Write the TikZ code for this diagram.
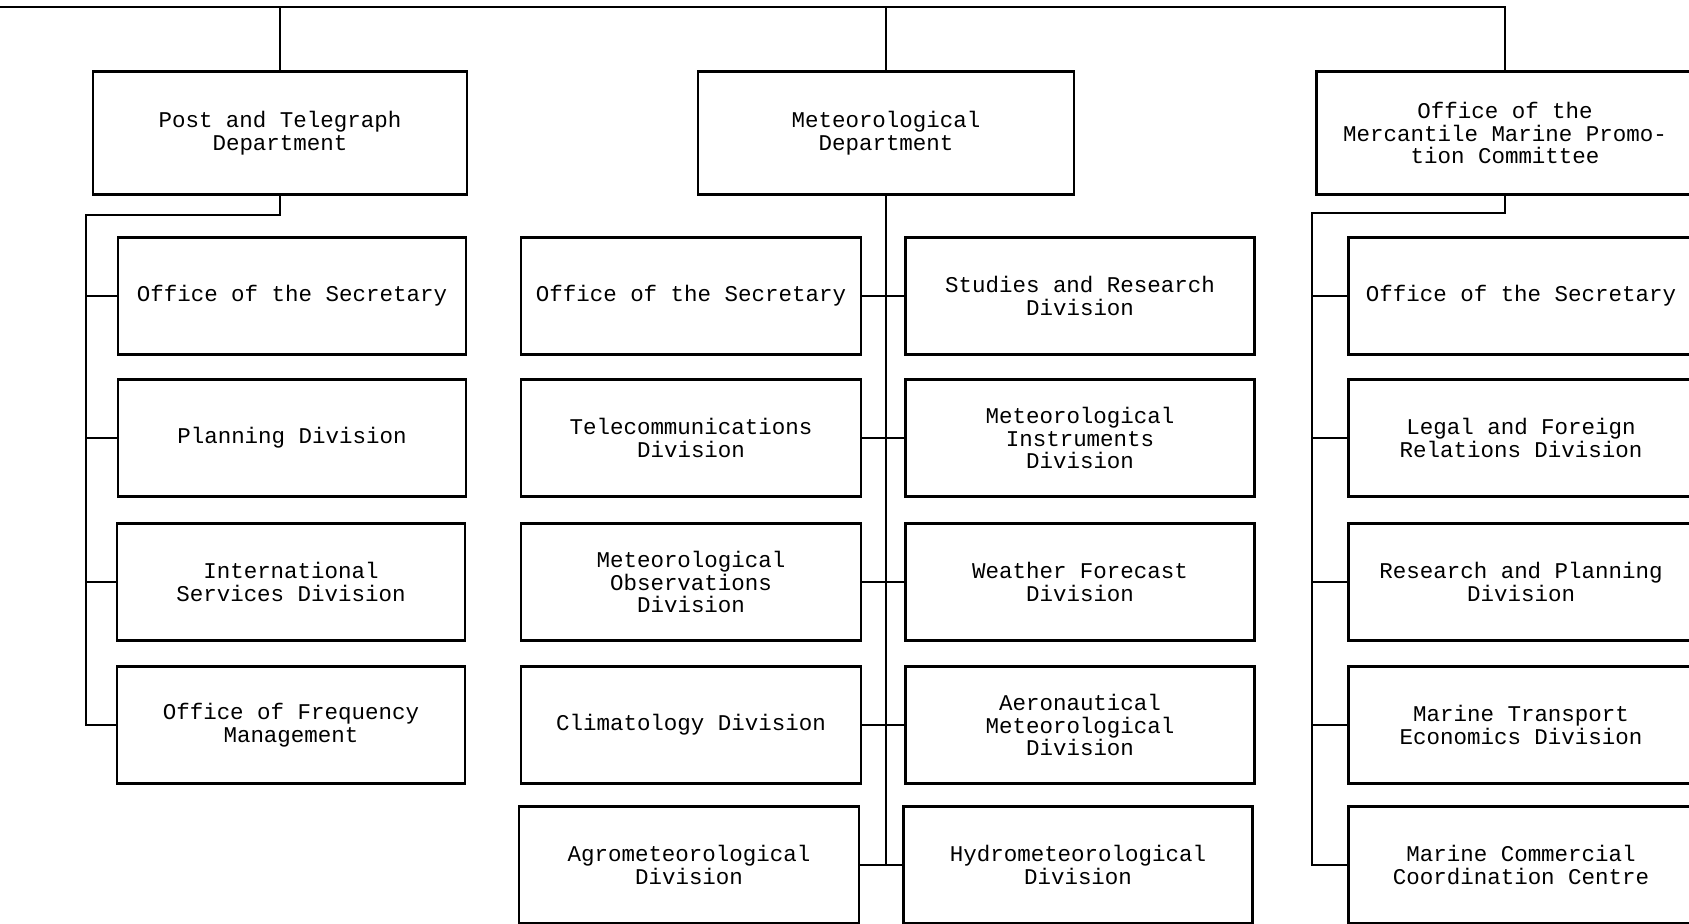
\documentclass[tikz,border=0pt]{standalone}
\usepackage{fontspec}
\newfontfamily\typew{Liberation Mono}

\tikzstyle{dept} = [rectangle, draw, line width=0.8pt, minimum width=3.74cm, minimum height=1.23cm, align=center, font=\fontsize{6.4pt}{6.5pt}\selectfont\typew]
\tikzstyle{unit} = [rectangle, draw, line width=0.8pt, minimum height=1.17cm, align=center, font=\fontsize{6.4pt}{6.5pt}\selectfont\typew]
\tikzstyle{wire} = [line width=0.5pt]

\begin{document}
\begin{tikzpicture}
\useasboundingbox (0,0) rectangle (16.89,-9.24);
\clip (0,0) rectangle (16.89,-9.24);
% departments
\node[dept] (post) at (2.80,-1.33) {Post and Telegraph\\Department};
\node[dept, minimum width=3.76cm] (met) at (8.86,-1.33) {Meteorological\\Department};
\node[dept, minimum width=3.77cm] (merc) at (15.05,-1.33) {Office of the\\Mercantile Marine Promo-\\tion Committee};
% post and telegraph
\node[unit, minimum width=3.48cm] (ps1) at (2.92,-2.96) {Office of the Secretary};
\node[unit, minimum width=3.48cm] (ps2) at (2.92,-4.38) {Planning Division};
\node[unit, minimum width=3.48cm] (ps3) at (2.91,-5.82) {International\\Services Division};
\node[unit, minimum width=3.48cm] (ps4) at (2.91,-7.25) {Office of Frequency\\Management};
% meteorological
\node[unit, minimum width=3.40cm] (ml1) at (6.91,-2.96) {Office of the Secretary};
\node[unit, minimum width=3.40cm] (ml2) at (6.91,-4.38) {Telecommunications\\Division};
\node[unit, minimum width=3.40cm] (ml3) at (6.91,-5.82) {Meteorological\\Observations\\Division};
\node[unit, minimum width=3.40cm] (ml4) at (6.91,-7.25) {Climatology Division};
\node[unit, minimum width=3.40cm] (ml5) at (6.89,-8.65) {Agrometeorological\\Division};
\node[unit, minimum width=3.49cm] (mr1) at (10.80,-2.96) {Studies and Research\\Division};
\node[unit, minimum width=3.49cm] (mr2) at (10.80,-4.38) {Meteorological\\Instruments\\Division};
\node[unit, minimum width=3.49cm] (mr3) at (10.80,-5.82) {Weather Forecast\\Division};
\node[unit, minimum width=3.49cm] (mr4) at (10.80,-7.25) {Aeronautical\\Meteorological\\Division};
\node[unit, minimum width=3.49cm] (mr5) at (10.78,-8.65) {Hydrometeorological\\Division};
% mercantile marine
\node[unit, minimum width=3.45cm] (cs1) at (15.21,-2.96) {Office of the Secretary};
\node[unit, minimum width=3.45cm] (cs2) at (15.21,-4.38) {Legal and Foreign\\Relations Division};
\node[unit, minimum width=3.45cm] (cs3) at (15.21,-5.82) {Research and Planning\\Division};
\node[unit, minimum width=3.45cm] (cs4) at (15.21,-7.25) {Marine Transport\\Economics Division};
\node[unit, minimum width=3.45cm] (cs5) at (15.21,-8.65) {Marine Commercial\\Coordination Centre};
% top line
\coordinate (top) at (0,-0.07);
\draw[wire] (top) -| (merc.north);
\draw[wire] (post.north) -- (post.north |- top);
\draw[wire] (met.north) -- (met.north |- top);
% post bus
\coordinate (pbus) at (0.86,-2.15);
\draw[wire] (post.south) |- (pbus) |- (ps4.west);
\draw[wire] (pbus |- ps1.west) -- (ps1.west);
\draw[wire] (pbus |- ps2.west) -- (ps2.west);
\draw[wire] (pbus |- ps3.west) -- (ps3.west);
% met trunk
\draw[wire] (met.south) -- (met.south |- ml5.east);
\draw[wire] (ml1.east) -- (mr1.west);
\draw[wire] (ml2.east) -- (mr2.west);
\draw[wire] (ml3.east) -- (mr3.west);
\draw[wire] (ml4.east) -- (mr4.west);
\draw[wire] (ml5.east) -- (mr5.west);
% mercantile bus
\coordinate (cbus) at (13.12,-2.13);
\draw[wire] (merc.south) |- (cbus) |- (cs5.west);
\draw[wire] (cbus |- cs1.west) -- (cs1.west);
\draw[wire] (cbus |- cs2.west) -- (cs2.west);
\draw[wire] (cbus |- cs3.west) -- (cs3.west);
\draw[wire] (cbus |- cs4.west) -- (cs4.west);
\end{tikzpicture}
\end{document}
